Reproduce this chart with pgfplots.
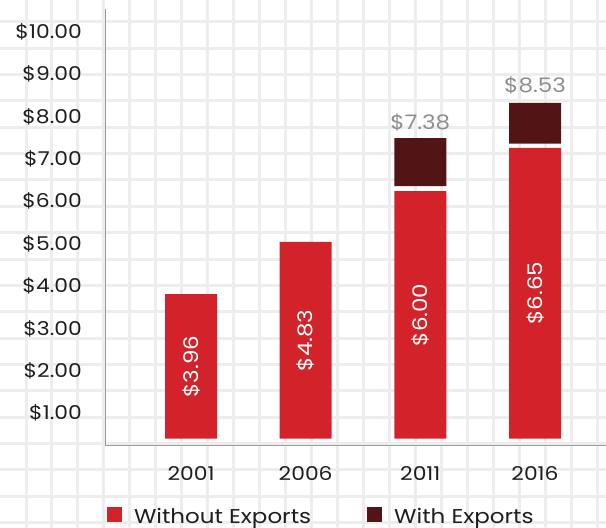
\documentclass[border=0pt]{standalone}
\usepackage{pgfplots}
\pgfplotsset{compat=1.18}
\usepackage{fontspec}
\setmainfont{Poppins}[FakeStretch=1.15]
\definecolor{barred}{HTML}{D2232A}
\definecolor{bardark}{HTML}{531415}
\definecolor{gridc}{HTML}{EDEDED}
\definecolor{axc}{HTML}{9A9A9A}
\definecolor{lblgray}{HTML}{8E8E8E}
\definecolor{txt}{HTML}{1E1E1E}
\begin{document}
\begin{tikzpicture}[x=1pt,y=1pt]
\useasboundingbox (0,0) rectangle (606,528);
\begin{scope}
\clip (0,0) rectangle (606,528);
\foreach \k in {0,...,22} {\draw[gridc, line width=3pt] ({26+25.98*\k},0) -- ({26+25.98*\k},528);}
\foreach \k in {0,...,19} {\draw[gridc, line width=3pt] (0,{528-21.7-26.37*\k}) -- (606,{528-21.7-26.37*\k});}
\end{scope}
\begin{axis}[
  at={(105pt,82.7pt)}, anchor=south west,
  scale only axis, width=501pt, height=436.3pt,
  xmin=-0.75, xmax=3.619, ymin=0.245, ymax=10.535,
  ybar stacked, bar width=52pt,
  axis x line*=bottom, axis y line*=left,
  axis line style={draw=axc, line width=0.8pt, -},
  major tick length=0pt,
  xtick={0,1,2,3}, xticklabels={2001,2006,2011,2016},
  ytick={1,2,3,4,5,6,7,8,9,10},
  yticklabels={\$1.00,\$2.00,\$3.00,\$4.00,\$5.00,\$6.00,\$7.00,\$8.00,\$9.00,\$10.00},
  tick label style={font=\fontsize{19}{22}\selectfont, text=txt},
  xticklabel style={anchor=center, inner sep=0pt, yshift=-28pt},
  yticklabel style={anchor=east, inner sep=0pt, xshift=-23pt},
  clip=false,
  legend columns=2,
  legend cell align=left,
  legend style={at={(axis description cs:0.004,-0.1627)}, anchor=west,
    draw=none, fill=none, inner sep=0pt, outer sep=0pt,
    font=\fontsize{20}{24}\selectfont, text=txt,
    nodes={inner sep=0pt, outer sep=0pt},
    /tikz/every odd column/.append style={column sep=12pt},
    /tikz/every even column/.append style={column sep=56pt}},
]
\addplot[draw=none, fill=none, forget plot] coordinates {(0,0.40) (1,0.40) (2,0.40) (3,0.40)};
\addplot[draw=none, fill=barred, legend image code/.code={\fill[barred] (0pt,-5.5pt) rectangle (15pt,9.5pt);}]
  coordinates {(0,3.41) (1,4.64) (2,5.84) (3,6.86)};
\addplot[draw=none, fill=none, forget plot] coordinates {(0,0) (1,0) (2,0.12) (3,0.10)};
\addplot[draw=none, fill=bardark, legend image code/.code={\fill[bardark] (0pt,-5.5pt) rectangle (15pt,9.5pt);}]
  coordinates {(0,0) (1,0) (2,1.13) (3,0.96)};
\legend{Without Exports, With Exports}
\coordinate (l1) at (axis cs:0,2.105);
\coordinate (l2) at (axis cs:1,2.72);
\coordinate (l3) at (axis cs:2,3.32);
\coordinate (l4) at (axis cs:3,3.83);
\node[text=lblgray, font=\fontsize{20}{24}\selectfont] at (axis cs:2,7.85) {\$7.38};
\node[text=lblgray, font=\fontsize{20}{24}\selectfont] at (axis cs:3,8.74) {\$8.53};
\end{axis}
\node[rotate=90, text=white, font=\fontsize{20}{24}\selectfont] at (l1) {\$3.96};
\node[rotate=90, text=white, font=\fontsize{20}{24}\selectfont] at (l2) {\$4.83};
\node[rotate=90, text=white, font=\fontsize{20}{24}\selectfont] at (l3) {\$6.00};
\node[rotate=90, text=white, font=\fontsize{20}{24}\selectfont] at (l4) {\$6.65};
\end{tikzpicture}
\end{document}
